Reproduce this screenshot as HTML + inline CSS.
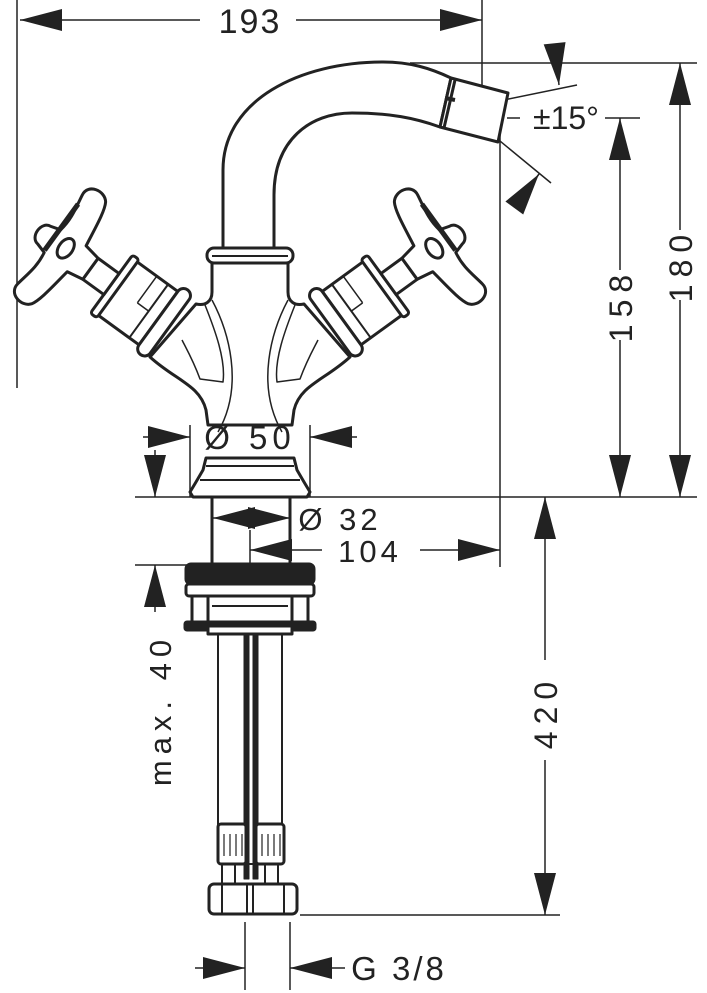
<!DOCTYPE html>
<html><head><meta charset="utf-8"><style>
html,body{margin:0;padding:0;background:#fff;}
svg{display:block;}
text{font-family:"Liberation Sans",sans-serif;fill:#222;}
</style></head><body>
<svg width="707" height="993" viewBox="0 0 707 993" xmlns="http://www.w3.org/2000/svg">
<defs>
<g id="valve" fill="#fff" stroke="#222" stroke-width="3" stroke-linejoin="round">
  <rect x="-95" y="-33" width="51" height="66"/>
  <line x1="-56" y1="-33" x2="-56" y2="33" stroke-width="2"/>
  <line x1="-70" y1="-33" x2="-70" y2="0" stroke-width="1.5"/>
  <line x1="-70" y1="0" x2="-56" y2="0" stroke-width="1.5"/>
  <rect x="-44" y="-40" width="14" height="80" rx="7"/>
  <rect x="-102" y="-36" width="8" height="72" rx="3"/>
  <rect x="-128" y="-13" width="26" height="26"/>
  <path d="M-128,-13 L-145,-16 C-148,-35 -150,-55 -155,-63 C-162,-72 -180,-68 -178,-55 C-176,-42 -172,-30 -175,-14 L-185,-11 C-196,-10 -196,10 -185,11 L-175,14 C-172,30 -176,42 -178,55 C-180,68 -162,72 -155,63 C-150,55 -148,35 -145,16 L-128,13 Z"/>
  <ellipse cx="-160" cy="-2" rx="7" ry="11"/>
  <line x1="-176" y1="-45" x2="-176" y2="12" stroke-width="5"/>
</g>
<g id="bodyhalf" fill="none" stroke="#222">
  <path d="M205,305 C215,330 226,360 223,382 L200,379 C193,360 186,348 182,340" stroke-width="1.5"/>
  <path d="M212,300 C228,330 245,385 218,432" stroke-width="1.5"/>
</g>
<path id="ah" d="M0,0 L-42,-11 L-42,11 Z" fill="#222"/>
</defs>

<g stroke="#222" fill="none" stroke-width="1.5">
  <line x1="17" y1="0" x2="17" y2="388"/>
  <line x1="482" y1="0" x2="482" y2="85"/>
  <line x1="20" y1="20" x2="200" y2="20"/>
  <line x1="296" y1="20" x2="482" y2="20"/>
  <line x1="410" y1="63" x2="697" y2="63"/>
  <line x1="680" y1="63" x2="680" y2="230"/>
  <line x1="680" y1="300" x2="680" y2="497"/>
  <line x1="605" y1="118" x2="640" y2="118"/>
  <line x1="620" y1="118" x2="620" y2="270"/>
  <line x1="620" y1="340" x2="620" y2="497"/>
  <line x1="507" y1="118" x2="520" y2="118"/>
  <line x1="500" y1="110" x2="500" y2="567"/>
  <line x1="190" y1="497" x2="697" y2="497"/>
  <line x1="445" y1="112" x2="577" y2="85"/>
  <line x1="455" y1="104" x2="551" y2="183"/>
  <line x1="555" y1="45" x2="559" y2="85"/>
  <line x1="520" y1="200" x2="539" y2="174"/>
  <line x1="190" y1="425" x2="190" y2="497"/>
  <line x1="310" y1="425" x2="310" y2="497"/>
  <line x1="143" y1="437" x2="190" y2="437"/>
  <line x1="310" y1="437" x2="357" y2="437"/>
  <line x1="135" y1="497" x2="190" y2="497"/>
  <line x1="135" y1="565" x2="190" y2="565"/>
  <line x1="155" y1="450" x2="155" y2="497"/>
  <line x1="155" y1="565" x2="155" y2="612"/>
  <line x1="213" y1="518" x2="290" y2="518"/>
  <line x1="250" y1="530" x2="250" y2="565"/>
  <line x1="250" y1="550" x2="322" y2="550"/>
  <line x1="420" y1="550" x2="500" y2="550"/>
  <line x1="545" y1="497" x2="545" y2="660"/>
  <line x1="545" y1="760" x2="545" y2="915"/>
  <line x1="300" y1="915" x2="560" y2="915"/>
  <line x1="245" y1="922" x2="245" y2="990"/>
  <line x1="290" y1="922" x2="290" y2="990"/>
  <line x1="195" y1="968" x2="245" y2="968"/>
  <line x1="290" y1="968" x2="345" y2="968"/>
</g>

<use href="#ah" transform="translate(20,20) rotate(180)"/>
<use href="#ah" transform="translate(482,20)"/>
<use href="#ah" transform="translate(680,63) rotate(-90)"/>
<use href="#ah" transform="translate(680,497) rotate(90)"/>
<use href="#ah" transform="translate(620,118) rotate(-90)"/>
<use href="#ah" transform="translate(620,497) rotate(90)"/>
<use href="#ah" transform="translate(559,85) rotate(84)"/>
<use href="#ah" transform="translate(539,174) rotate(-54)"/>
<use href="#ah" transform="translate(190,437)"/>
<use href="#ah" transform="translate(310,437) rotate(180)"/>
<use href="#ah" transform="translate(155,497) rotate(90)"/>
<use href="#ah" transform="translate(155,565) rotate(-90)"/>
<use href="#ah" transform="translate(213,518) rotate(180)"/>
<use href="#ah" transform="translate(290,518)"/>
<use href="#ah" transform="translate(250,550) rotate(180)"/>
<use href="#ah" transform="translate(500,550)"/>
<use href="#ah" transform="translate(545,497) rotate(-90)"/>
<use href="#ah" transform="translate(545,915) rotate(90)"/>
<use href="#ah" transform="translate(245,968)"/>
<use href="#ah" transform="translate(290,968) rotate(180)"/>

<text x="250" y="33" font-size="34" text-anchor="middle" letter-spacing="2">193</text>
<text x="566" y="129" font-size="32" text-anchor="middle">±15°</text>
<text x="0" y="0" font-size="32" text-anchor="middle" letter-spacing="7" transform="translate(692,265) rotate(-90)">180</text>
<text x="0" y="0" font-size="32" text-anchor="middle" letter-spacing="7" transform="translate(632,305) rotate(-90)">158</text>
<text x="250" y="449" font-size="33" text-anchor="middle" letter-spacing="5">Ø 50</text>
<text x="340" y="530" font-size="31" text-anchor="middle" letter-spacing="4">Ø 32</text>
<text x="370" y="562" font-size="31" text-anchor="middle" letter-spacing="4">104</text>
<text x="0" y="0" font-size="31" text-anchor="middle" letter-spacing="6" transform="translate(171,710) rotate(-90)">max. 40</text>
<text x="0" y="0" font-size="32" text-anchor="middle" letter-spacing="7" transform="translate(557,712) rotate(-90)">420</text>
<text x="399" y="980" font-size="33" text-anchor="middle" letter-spacing="3">G 3/8</text>

<g stroke="#222" stroke-width="3" fill="#fff" stroke-linejoin="round">
  <path d="M223,250 L223,170 C223,100 300,62 383,62 C410,62 430,68 451,78 L440,127 C415,118 390,113 352,113 C310,113 274,140 274,195 L274,250 Z"/>
  <path d="M451,78 L508,93 L498,142 L440,127 Z"/>
  <line x1="455" y1="80" x2="444" y2="128"/>
  <line x1="445" y1="98" x2="455" y2="100" stroke-width="4"/>
  <path d="M212,263 L212,292 C212,302 205,306 196,304 L150,357 C175,380 200,385 206,410 L208,425 L292,425 L294,410 C300,385 325,380 350,357 L304,304 C295,306 288,302 288,292 L288,263 Z"/>
  <use href="#bodyhalf"/>
  <use href="#bodyhalf" transform="translate(500,0) scale(-1,1)"/>
  <rect x="207" y="248" width="86" height="15" rx="7"/>
  <line x1="212" y1="256" x2="288" y2="256" stroke-width="2"/>
  <use href="#valve" transform="translate(194,344) rotate(36)"/>
  <use href="#valve" transform="translate(500,0) scale(-1,1) translate(194,344) rotate(36)"/>
  <path d="M206,458 L294,458 L297,470 L304,482 L310,492 L307,497 L193,497 L190,492 L196,482 L203,470 Z"/>
  <line x1="206" y1="466" x2="294" y2="466" stroke-width="2"/>
  <line x1="200" y1="480" x2="300" y2="480" stroke-width="2"/>
  <line x1="212" y1="497" x2="212" y2="566"/>
  <line x1="290" y1="497" x2="290" y2="566"/>
  <rect x="186" y="564" width="128" height="20" rx="5" fill="#222"/>
  <rect x="186" y="584" width="128" height="12" rx="3"/>
  <rect x="192" y="596" width="116" height="28"/>
  <line x1="208" y1="596" x2="208" y2="624"/>
  <line x1="292" y1="596" x2="292" y2="624"/>
  <line x1="212" y1="606" x2="288" y2="606" stroke-width="2"/>
  <rect x="185" y="622" width="130" height="8" rx="2" fill="#222"/>
  <rect x="208" y="626" width="84" height="8"/>
  <line x1="218" y1="634" x2="218" y2="825" stroke-width="2"/>
  <line x1="282" y1="634" x2="282" y2="825" stroke-width="2"/>
  <rect x="244" y="634" width="5" height="245" fill="#222" stroke-width="1"/>
  <rect x="253" y="634" width="5" height="245" fill="#222" stroke-width="1"/>
  <rect x="218" y="824" width="28" height="40" rx="3"/>
  <rect x="256" y="824" width="28" height="40" rx="3"/>
  <g stroke-width="1.2" fill="none">
    <line x1="224" y1="834" x2="224" y2="856"/><line x1="230" y1="834" x2="230" y2="856"/><line x1="236" y1="834" x2="236" y2="856"/><line x1="242" y1="834" x2="242" y2="856"/>
    <line x1="262" y1="834" x2="262" y2="856"/><line x1="268" y1="834" x2="268" y2="856"/><line x1="274" y1="834" x2="274" y2="856"/><line x1="280" y1="834" x2="280" y2="856"/>
  </g>
  <rect x="222" y="864" width="56" height="20" fill="none" stroke-width="2"/>
  <line x1="235" y1="864" x2="235" y2="884" stroke-width="2"/>
  <line x1="265" y1="864" x2="265" y2="884" stroke-width="2"/>
  <rect x="209" y="884" width="88" height="30" rx="5"/>
  <line x1="222" y1="884" x2="222" y2="914" stroke-width="2"/>
  <line x1="247" y1="884" x2="247" y2="914" stroke-width="2"/>
  <line x1="253" y1="884" x2="253" y2="914" stroke-width="2"/>
  <line x1="284" y1="884" x2="284" y2="914" stroke-width="2"/>
</g>
</svg>
</body></html>
